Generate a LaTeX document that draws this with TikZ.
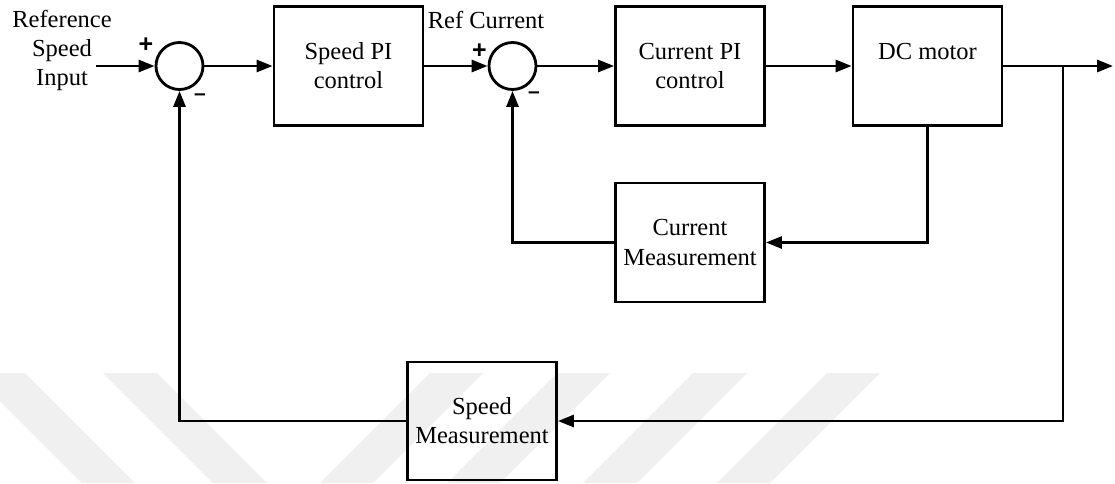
\documentclass[tikz,border=0pt]{standalone}
\usepackage{fontspec}
\setmainfont{Liberation Serif}
\newfontfamily\signfont{Liberation Sans}
\usetikzlibrary{arrows.meta}
\begin{document}
\begin{tikzpicture}[x=1pt,y=-1pt,
  every node/.style={font=\fontsize{24.5}{29}\selectfont},
  blk/.style={draw, line width=2.8pt, minimum width=149pt, minimum height=119pt,
    align=center, inner sep=0pt, execute at begin node=\rule{0pt}{22pt}},
  sumj/.style={draw, circle, line width=2.8pt, minimum size=47pt, inner sep=0pt},
  plus/.style={font=\signfont\bfseries\fontsize{25}{25}\selectfont, inner sep=0pt},
  minus/.style={font=\signfont\bfseries\fontsize{21}{21}\selectfont, inner sep=0pt},
  wire/.style={line width=2.8pt},
  arr/.style={wire, -{Triangle[length=16pt,width=12pt]}},
  wm/.style={fill=black!6, draw=none}
]
% canvas
\fill[white] (0,0) rectangle (1115,483);
\useasboundingbox (0,0) rectangle (1115,483);

% faint background stripes
\fill[wm] (-28,373) -- (25,373) -- (135,483) -- (82,483) -- cycle;
\fill[wm] (103,373) -- (157,373) -- (267,483) -- (213,483) -- cycle;
\fill[wm] (430,373) -- (483,373) -- (373,483) -- (320,483) -- cycle;
\fill[wm] (557,373) -- (610,373) -- (500,483) -- (447,483) -- cycle;
\fill[wm] (693,373) -- (747,373) -- (637,483) -- (583,483) -- cycle;
\fill[wm] (827,373) -- (880,373) -- (770,483) -- (717,483) -- cycle;

% forward path
\node[align=center] (lbl) at (62,50) {Reference\\Speed\\Input};
\coordinate (in) at (96,66);
\node[sumj] (s1) at (179.5,66) {};
\node[blk] (spi) at (348.5,66) {Speed PI\\control};
\node[sumj] (s2) at (512.5,66) {};
\node[anchor=base] (rc) at (486,28) {Ref Current};
\node[blk] (cpi) at (690,66) {Current PI\\control};
\node[blk] (dc) at (927.5,66) {DC motor\\\mbox{}};
\coordinate (br) at (1063,66);
\coordinate (out) at (1113,66);

% feedback blocks
\node[blk] (cm) at (690,242.5) {Current\\Measurement};
\node[blk, minimum height=118pt] (sm) at (482,421) {Speed\\Measurement};

% signs at the summing junctions
\node[plus] (p1) at (146,45) {+};
\node[minus] (m1) at (200,97) {–};
\node[plus] (p2) at (479.5,51) {+};
\node[minus] (m2) at (534,95) {–};

% connectors
\draw[arr] (in) -- (s1);
\draw[arr] (s1) -- (spi);
\draw[arr] (spi) -- (s2);
\draw[arr] (s2) -- (cpi);
\draw[arr] (cpi) -- (dc);
\draw[arr] (dc) -- (out);
\draw[arr] (dc.south) |- (cm);
\draw[arr] (cm) -| (s2);
\draw[arr] (br) |- (sm);
\draw[arr] (sm) -| (s1);
\end{tikzpicture}
\end{document}
